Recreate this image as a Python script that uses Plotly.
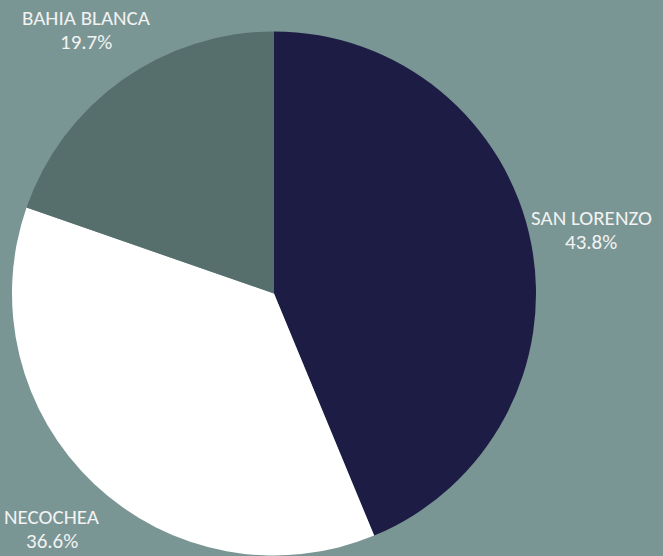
import math
import plotly.graph_objects as go

labels = ["SAN LORENZO", "NECOCHEA", "BAHIA BLANCA"]
values = [43.8, 36.6, 19.7]
colors = ["#1c1c44", "#ffffff", "#566e6c"]

W, H = 663, 556
M = dict(l=12, r=127, t=31, b=0)
FONT = "Carlito, Calibri, Lato, Open Sans, sans-serif"

fig = go.Figure(go.Pie(
    labels=labels,
    values=values,
    sort=False,
    direction="clockwise",
    rotation=0,
    marker=dict(colors=colors, line=dict(width=0)),
    textinfo="none",
    showlegend=False,
    hoverinfo="label+percent",
))

# label annotations placed along each slice's mid-angle, outside the pie
pw = W - M["l"] - M["r"]
ph = H - M["t"] - M["b"]
rpx = min(pw, ph) / 2
total = sum(values)
cum = 0.0
annotations = []
for lab, v in zip(labels, values):
    mid = (cum + v / 2) / total * 2 * math.pi
    cum += v
    d = 1.235 * rpx
    x = 0.5 + d * math.sin(mid) / pw
    y = 0.5 + d * math.cos(mid) / ph
    for txt, ys in ((lab, 12), (f"{v / total * 100:.1f}%", -12)):
        annotations.append(dict(
            x=x, y=y, yshift=ys,
            xref="paper", yref="paper",
            text=txt,
            showarrow=False,
            xanchor="center", yanchor="middle",
            align="center",
            font=dict(family=FONT, size=21, color="#f2f2f2"),
        ))

fig.update_layout(
    width=W, height=H,
    paper_bgcolor="#7a9694",
    plot_bgcolor="#7a9694",
    margin=M,
    annotations=annotations,
    font=dict(family=FONT, color="#f2f2f2", size=21),
)

fig.write_html(
    "out.html",
    config={"displayModeBar": False},
    post_script="document.body.style.margin='0';document.body.style.background='#7a9694';",
)
